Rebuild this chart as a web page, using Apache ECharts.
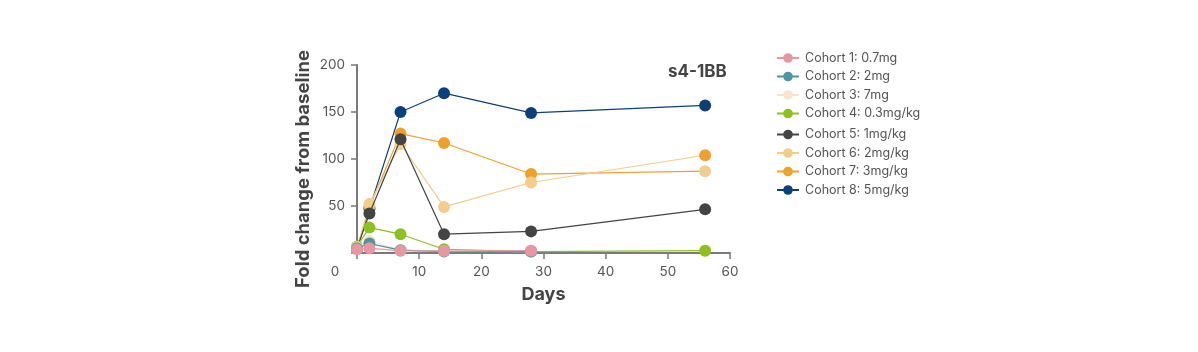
<!DOCTYPE html>
<html>
<head>
<meta charset="utf-8">
<script src="https://cdn.jsdelivr.net/npm/echarts@6/dist/echarts.min.js"></script>
<style>
html,body{margin:0;padding:0;background:#fff;}
#main{width:1198px;height:352px;}
</style>
</head>
<body>
<div id="main"></div>
<script>
const days = [0, 2, 7, 14, 28, 56];
const cohortNames = ['Cohort 1: 0.7mg','Cohort 2: 2mg','Cohort 3: 7mg','Cohort 4: 0.3mg/kg','Cohort 5: 1mg/kg','Cohort 6: 2mg/kg','Cohort 7: 3mg/kg','Cohort 8: 5mg/kg'];
const cohort1 = [4, 5, 2.5, 2, 2.5, null];
const cohort2 = [5, 10, 3, 1.5, 1.5, null];
const cohort3 = [6, 13, 3, 2, 1.5, null];
const cohort4 = [7, 27, 20, 4, 1.5, 2.5];
const cohort5 = [5, 42, 121, 20, 23, 46.5];
const cohort6 = [5, 52, 116, 49, 75, 104];
const cohort7 = [5, 49, 127, 117, 84, 87];
const cohort8 = [5, 47, 150, 170, 149, 157];
const yTicks = [0, 50, 100, 150, 200];
const xTicks = [0, 10, 20, 30, 40, 50, 60];

const colors = ['#E8969F','#4B96A0','#F8E4CF','#8CC121','#444444','#F2CD8C','#F0A02C','#0F3F7A'];
const values = [cohort1,cohort2,cohort3,cohort4,cohort5,cohort6,cohort7,cohort8];
const font = 'Inter, "Noto Sans", sans-serif';

const series = [];
for (let i = values.length - 1; i >= 0; i--) {
  const data = [];
  values[i].forEach((v, k) => {
    if (v === null) return;
    const item = { value: [days[k], v] };
    // the reference draws the day-56 markers of cohorts 6 and 7 in swapped colours
    if (k === days.length - 1 && i === 5) item.itemStyle = { color: colors[6] };
    if (k === days.length - 1 && i === 6) item.itemStyle = { color: colors[5] };
    data.push(item);
  });
  series.push({
    name: cohortNames[i],
    type: 'line',
    data: data,
    symbol: 'circle',
    symbolSize: 12,
    showSymbol: true,
    lineStyle: { width: 1.2, color: colors[i] },
    itemStyle: { color: colors[i] },
    z: 2 + (values.length - i),
    emphasis: { disabled: true },
    animation: false
  });
}

const legendCommon = {
  orient: 'vertical',
  left: 771,
  itemWidth: 22,
  itemHeight: 12,
  itemGap: 5.5,
  textStyle: { fontSize: 12.5, color: '#555', fontFamily: font, padding: [0,0,0,1] },
  selectedMode: false
};

const chart = echarts.init(document.getElementById('main'), null, { renderer: 'canvas' });
chart.setOption({
  backgroundColor: '#fff',
  animation: false,
  title: {
    text: 's4-1BB', left: 663, top: 58,
    textStyle: { fontSize: 17, fontWeight: 'bold', color: '#444', fontFamily: font }
  },
  legend: [
    Object.assign({}, legendCommon, { top: 46.5, data: cohortNames.slice(0, 4) }),
    Object.assign({}, legendCommon, { top: 123, data: cohortNames.slice(4) })
  ],
  grid: { left: 357, right: 468, top: 65, bottom: 99, containLabel: false },
  xAxis: {
    type: 'value', min: 0, max: 60, interval: 10,
    name: 'Days', nameLocation: 'middle', nameGap: 33,
    nameTextStyle: { fontSize: 18, fontWeight: 'bold', color: '#444', fontFamily: font },
    axisLine: { show: true, onZero: false, lineStyle: { color: '#7a7a7a', width: 2 } },
    axisTick: { show: true, length: 6, lineStyle: { color: '#7a7a7a', width: 1.5 } },
    axisLabel: {
      fontSize: 13.5, color: '#555', fontFamily: font, margin: 12,
      formatter: v => v === 0 ? '{z|0}' : String(v),
      rich: { z: { fontSize: 13.5, color: '#555', fontFamily: font, padding: [0, 44, 0, 0] } }
    },
    splitLine: { show: false }
  },
  yAxis: {
    type: 'value', min: 0, max: 200, interval: 50,
    name: 'Fold change from baseline', nameLocation: 'middle', nameGap: 44,
    nameTextStyle: { fontSize: 18.5, fontWeight: 'bold', color: '#444', fontFamily: font, padding: [0, 20, 0, 0] },
    axisLine: { show: true, lineStyle: { color: '#7a7a7a', width: 2 } },
    axisTick: { show: true, length: 6, lineStyle: { color: '#7a7a7a', width: 1.5 } },
    axisLabel: { fontSize: 13.5, color: '#555', fontFamily: font, margin: 12, formatter: v => v === 0 ? '' : String(v) },
    splitLine: { show: false }
  },
  series: series
});
</script>
</body>
</html>
